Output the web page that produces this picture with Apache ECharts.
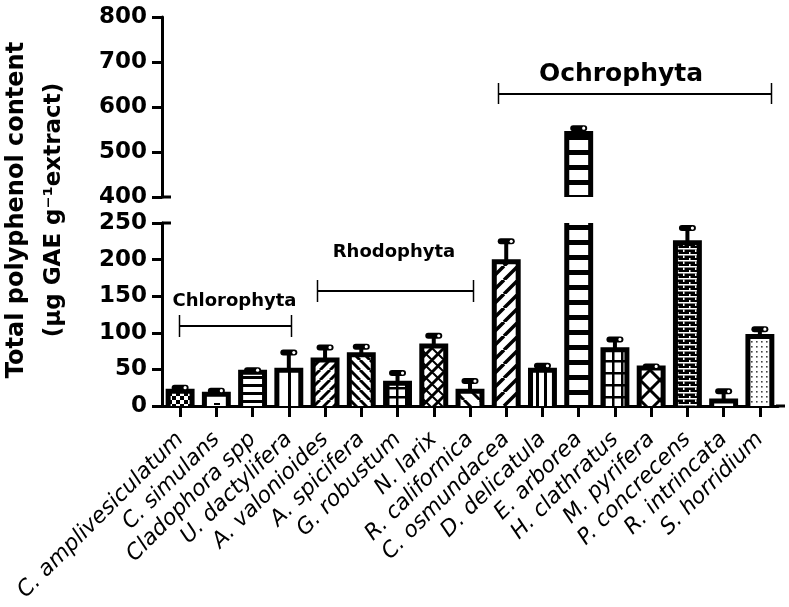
<!DOCTYPE html>
<html><head><meta charset="utf-8">
<script src="https://cdn.jsdelivr.net/npm/echarts@6/dist/echarts.min.js"></script>
<style>html,body{margin:0;padding:0;background:#fff}#c{width:789px;height:607px}</style>
</head><body><div id="c"></div>
<script>
// ---- data ----
const categories = ['C. amplivesiculatum','C. simulans','Cladophora spp','U. dactylifera','A. valonioides','A. spicifera','G. robustum','N. larix','R. californica','C. osmundacea','D. delicatula','E. arborea','H. clathratus','M. pyrifera','P. concrecens','R. intrincata','S. horridium'];
const means = [20,16,46,49,63,70,31,82,20,197,49,541,77,52,223,7,95];
const sems  = [5,5,3,24,17,11,14,14,14,28,6,12,14,2,20,13,10];
const lowerAxis = {min:0, max:250, interval:50};
const upperAxis = {min:400, max:800, interval:100};
const groupNames = ['Chlorophyta','Rhodophyta','Ochrophyta'];

// ---- styles ----
const patternNames = ['checker','sparse','hlines','vline','fdiag','bdiag','grid','cross','bdiagWide','fdiagWide','vlines','hbands','window','bigX','brick','hlines','dots'];
function tile(w,h,draw,bg){const c=document.createElement('canvas');c.width=w;c.height=h;const g=c.getContext('2d');g.fillStyle=bg||'#fff';g.fillRect(0,0,w,h);g.fillStyle='#000';g.strokeStyle='#000';draw(g,w,h);return c;}
function fwd(g,s,lw){g.lineWidth=lw;g.beginPath();[-s,0,s].forEach(k=>{g.moveTo(k,s);g.lineTo(k+s,0);});g.stroke();}
function bwd(g,s,lw){g.lineWidth=lw;g.beginPath();[-s,0,s].forEach(k=>{g.moveTo(k,0);g.lineTo(k+s,s);});g.stroke();}
const tiles = {
  checker: tile(8,8,g=>{g.fillRect(0,0,4,4);g.fillRect(4,4,4,4);}),
  sparse: tile(14,12,g=>{g.fillRect(4,7,6,2);}),
  hlines: tile(4,8,g=>{g.fillRect(0,0,4,3);}),
  vline: tile(12,4,g=>{g.fillRect(0,0,3,4);}),
  fdiag: tile(10,10,g=>fwd(g,10,3)),
  bdiag: tile(10,10,g=>bwd(g,10,3)),
  grid: tile(9,9,g=>{g.fillRect(0,0,9,2.5);g.fillRect(0,0,2.5,9);}),
  cross: tile(12,12,g=>{fwd(g,12,3);bwd(g,12,2);}),
  bdiagWide: tile(16,16,g=>bwd(g,16,3)),
  fdiagWide: tile(14,14,g=>fwd(g,14,3.5)),
  vlines: tile(8,4,g=>{g.fillRect(0,0,3,4);}),
  hbands: tile(4,15,g=>{g.fillRect(0,0,4,5);}),
  window: tile(9,12,g=>{g.fillRect(0,0,2.5,12);g.fillRect(0,0,9,2.5);}),
  bigX: tile(20,20,g=>{fwd(g,20,3);bwd(g,20,3);}),
  brick: tile(12,6,g=>{g.fillStyle='#fff';g.fillRect(0,2,12,1.5);g.fillRect(5,0,1.5,2);g.fillRect(11,3.5,1,2.5);g.fillRect(0,3.5,0.5,2.5);},'#000'),
  dots: tile(5,5,g=>{g.fillStyle='#444';g.fillRect(1,1,1.6,1.6);})
};
const patterns = {};
Object.keys(tiles).forEach(k=>{patterns[k]={image:tiles[k],repeat:'repeat'};});

const TXT = '"DejaVu Sans", "Liberation Sans", sans-serif';

function renderFor(lo, hi){
  return function(params, api){
    const idx = api.value(0), v = api.value(1), e = api.value(2);
    if (v <= lo) return {type:'group', children:[]};
    const band = api.size([1,0])[0];
    const w = band*0.66;
    const c = api.coord([idx, Math.min(v, hi)]);
    const b = api.coord([idx, lo]);
    const cx = c[0], top = c[1], base = b[1];
    const clipped = v > hi;
    const L = cx - w/2, R = cx + w/2;
    const fill = patterns[patternNames[params.dataIndex]];
    const ch = [];
    ch.push({type:'rect', shape:{x:L, y:top, width:w, height:base-top}, style:{fill:fill}});
    if (clipped) {
      ch.push({type:'line', shape:{x1:L,y1:base,x2:L,y2:top}, style:{stroke:'#000', lineWidth:5}});
      ch.push({type:'line', shape:{x1:R,y1:base,x2:R,y2:top}, style:{stroke:'#000', lineWidth:5}});
    } else {
      ch.push({type:'polyline', shape:{points:[[L,base],[L,top],[R,top],[R,base]]}, style:{stroke:'#000', lineWidth:5, fill:null, lineJoin:'miter'}});
      if (v + e <= hi) {
        const ey = api.coord([idx, v + e])[1];
        ch.push({type:'line', shape:{x1:cx,y1:top,x2:cx,y2:ey}, style:{stroke:'#000', lineWidth:4}});
        ch.push({type:'rect', shape:{x:cx-8.5, y:ey-3, width:17, height:6, r:3}, style:{fill:'#000'}});
        ch.push({type:'circle', shape:{cx:cx+5, cy:ey, r:1.6}, style:{fill:'#fff'}});
      }
    }
    return {type:'group', children:ch};
  };
}

const seriesData = categories.map((c,i)=>[i, means[i], sems[i]]);
const axisLineStyle = {color:'#000', width:3};
const yLabel = {fontFamily:TXT, fontWeight:'bold', fontSize:23, color:'#000', margin:15};

const chart = echarts.init(document.getElementById('c'), null, {renderer:'canvas'});
const option = {
  animation:false,
  backgroundColor:'#fff',
  grid:[
    {left:162, right:11, top:17, height:180, containLabel:false, outerBoundsMode:'none'},
    {left:162, right:11, top:223, height:183, containLabel:false, outerBoundsMode:'none'}
  ],
  xAxis:[
    {gridIndex:0, type:'category', data:categories, show:false},
    {gridIndex:1, type:'category', data:categories,
     axisLine:{show:true, lineStyle:axisLineStyle},
     axisTick:{show:true, alignWithLabel:true, length:11, lineStyle:{color:'#000', width:3}},
     axisLabel:{show:true, interval:0, rotate:45, margin:30, fontFamily:TXT, fontStyle:'italic', fontSize:22, color:'#000'},
     splitLine:{show:false}}
  ],
  yAxis:[
    {gridIndex:0, type:'value', min:upperAxis.min, max:upperAxis.max, interval:upperAxis.interval,
     axisLine:{show:true, lineStyle:axisLineStyle}, axisTick:{show:true, length:10, lineStyle:{color:'#000', width:3}},
     splitLine:{show:false}, axisLabel:yLabel},
    {gridIndex:1, type:'value', min:lowerAxis.min, max:lowerAxis.max, interval:lowerAxis.interval,
     axisLine:{show:true, lineStyle:axisLineStyle}, axisTick:{show:true, length:10, lineStyle:{color:'#000', width:3}},
     splitLine:{show:false}, axisLabel:yLabel}
  ],
  series:[
    {type:'custom', xAxisIndex:0, yAxisIndex:0, data:seriesData, encode:{x:0, y:1}, renderItem:renderFor(upperAxis.min, upperAxis.max), z:3},
    {type:'custom', xAxisIndex:1, yAxisIndex:1, data:seriesData, encode:{x:0, y:1}, renderItem:renderFor(lowerAxis.min, lowerAxis.max), z:3}
  ],
  graphic:[
    {type:'text', x:17, y:210, rotation:Math.PI/2, style:{text:'Total polyphenol content', fontFamily:TXT, fontWeight:'bold', fontSize:24, fill:'#000', align:'center', verticalAlign:'middle', textAlign:'center', textVerticalAlign:'middle'}},
    {type:'text', x:54, y:210, rotation:Math.PI/2, style:{text:'(\u03bcg GAE g\u207b\u00b9extract)', fontFamily:TXT, fontWeight:'bold', fontSize:23, fill:'#000', align:'center', verticalAlign:'middle', textAlign:'center', textVerticalAlign:'middle'}},
    // axis break marks
    {type:'line', shape:{x1:162,y1:197,x2:171,y2:197}, style:{stroke:'#000', lineWidth:3}},
    {type:'line', shape:{x1:162,y1:223,x2:171,y2:223}, style:{stroke:'#000', lineWidth:3}},
    {type:'line', shape:{x1:776,y1:406,x2:785,y2:406}, style:{stroke:'#000', lineWidth:3}},
    // group brackets
    {type:'text', x:234.5, y:301, style:{text:groupNames[0], fontFamily:TXT, fontWeight:'bold', fontSize:18, fill:'#000', align:'center', verticalAlign:'middle', textAlign:'center', textVerticalAlign:'middle'}},
    {type:'line', shape:{x1:179.5,y1:326,x2:291.5,y2:326}, style:{stroke:'#000', lineWidth:2}},
    {type:'line', shape:{x1:179.5,y1:315,x2:179.5,y2:337}, style:{stroke:'#000', lineWidth:1.5}},
    {type:'line', shape:{x1:291.5,y1:315,x2:291.5,y2:337}, style:{stroke:'#000', lineWidth:1.5}},
    {type:'text', x:394, y:252, style:{text:groupNames[1], fontFamily:TXT, fontWeight:'bold', fontSize:18, fill:'#000', align:'center', verticalAlign:'middle', textAlign:'center', textVerticalAlign:'middle'}},
    {type:'line', shape:{x1:317.5,y1:291,x2:473.5,y2:291}, style:{stroke:'#000', lineWidth:2}},
    {type:'line', shape:{x1:317.5,y1:280,x2:317.5,y2:302}, style:{stroke:'#000', lineWidth:1.5}},
    {type:'line', shape:{x1:473.5,y1:280,x2:473.5,y2:302}, style:{stroke:'#000', lineWidth:1.5}},
    {type:'text', x:621, y:74, style:{text:groupNames[2], fontFamily:TXT, fontWeight:'bold', fontSize:25, fill:'#000', align:'center', verticalAlign:'middle', textAlign:'center', textVerticalAlign:'middle'}},
    {type:'line', shape:{x1:498.5,y1:94,x2:771.5,y2:94}, style:{stroke:'#000', lineWidth:2}},
    {type:'line', shape:{x1:498.5,y1:83,x2:498.5,y2:104}, style:{stroke:'#000', lineWidth:1.5}},
    {type:'line', shape:{x1:771.5,y1:83,x2:771.5,y2:104}, style:{stroke:'#000', lineWidth:1.5}}
  ]
};
chart.setOption(option);
</script>
</body></html>
